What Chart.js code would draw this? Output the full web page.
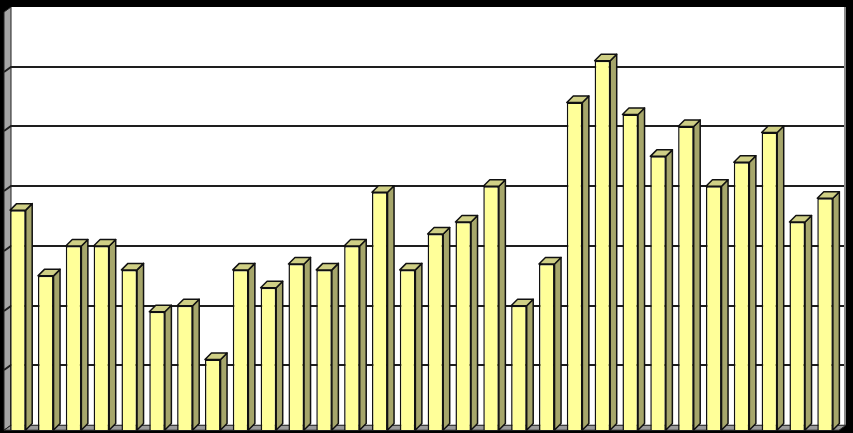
<!DOCTYPE html>
<html>
<head>
<meta charset="utf-8">
<script src="https://cdn.jsdelivr.net/npm/chart.js@4/dist/chart.umd.min.js"></script>
<style>
  html, body { margin: 0; padding: 0; background: #000; }
  canvas { display: block; }
</style>
</head>
<body>
<canvas id="chart" width="853" height="433"></canvas>
<script>
"use strict";

// data
const categories = ["1", "2", "3", "4", "5", "6", "7", "8", "9", "10",
  "11", "12", "13", "14", "15", "16", "17", "18", "19", "20",
  "21", "22", "23", "24", "25", "26", "27", "28", "29", "30"];
const values = [3.6, 2.5, 3.0, 3.0, 2.6, 1.9, 2.0, 1.1, 2.6, 2.3,
  2.7, 2.6, 3.0, 3.9, 2.6, 3.2, 3.4, 4.0, 2.0, 2.7,
  5.4, 6.1, 5.2, 4.5, 5.0, 4.0, 4.4, 4.9, 3.4, 3.8];
const gridTicks = [1, 2, 3, 4, 5, 6];
const yMin = -0.08;
const yMax = 7;

// 3d look
const wallDx = 7;
const wallDy = 5;
const barDx = 6.5;
const barDy = 6.5;

function poly(ctx, pts, fill, stroke, lw) {
  ctx.beginPath();
  ctx.moveTo(pts[0][0], pts[0][1]);
  for (let i = 1; i < pts.length; i++) {
    ctx.lineTo(pts[i][0], pts[i][1]);
  }
  ctx.closePath();
  if (fill) {
    ctx.fillStyle = fill;
    ctx.fill();
  }
  if (stroke) {
    ctx.strokeStyle = stroke;
    ctx.lineWidth = lw || 1;
    ctx.stroke();
  }
}

// walls, floor and gridlines behind the bars
const wallsPlugin = {
  id: "walls",
  beforeDatasetsDraw(chart) {
    const ctx = chart.ctx;
    const a = chart.chartArea;
    const y = chart.scales.y;
    const base = y.getPixelForValue(0);
    ctx.save();
    // back wall
    ctx.fillStyle = "#ffffff";
    ctx.fillRect(a.left + wallDx, a.top, a.right - a.left - 2, base - a.top);
    ctx.fillStyle = "#8a8a8a";
    ctx.fillRect(a.left + wallDx + a.right - a.left - 2, a.top, 2, base - a.top);
    // left wall
    poly(ctx, [
      [a.left, a.top + wallDy],
      [a.left + wallDx, a.top],
      [a.left + wallDx, base],
      [a.left, base + wallDy]
    ], "#a6a6a6", "#222", 1);
    // floor
    poly(ctx, [
      [a.left, base + wallDy],
      [a.left + wallDx, base],
      [a.right + wallDx, base],
      [a.right, base + wallDy]
    ], "#9a9a9a", "#222", 1);
    // gridlines
    ctx.strokeStyle = "#1e1e1e";
    ctx.lineWidth = 2;
    gridTicks.forEach(function (t) {
      const py = Math.round(y.getPixelForValue(t));
      ctx.beginPath();
      ctx.moveTo(a.left, py + wallDy);
      ctx.lineTo(a.left + wallDx, py);
      ctx.lineTo(a.right + wallDx - 2, py);
      ctx.stroke();
    });
    ctx.restore();
  }
};

// side and top faces of each bar
const barsPlugin = {
  id: "bars3d",
  afterDatasetsDraw(chart) {
    const ctx = chart.ctx;
    const meta = chart.getDatasetMeta(0);
    ctx.save();
    ctx.lineJoin = "round";
    meta.data.forEach(function (bar) {
      const p = bar.getProps(["x", "y", "base", "width"], true);
      const l = p.x - p.width / 2;
      const r = p.x + p.width / 2;
      const top = p.y;
      const bottom = p.base;
      // side
      poly(ctx, [
        [r, top],
        [r + barDx, top - barDy],
        [r + barDx, bottom - barDy],
        [r, bottom]
      ], "#a6a66b", "#111", 1.5);
      // top
      poly(ctx, [
        [l, top],
        [l + barDx, top - barDy],
        [r + barDx, top - barDy],
        [r, top]
      ], "#cfcf85", "#111", 1.5);
    });
    ctx.restore();
  }
};

const data = {
  labels: categories,
  datasets: [
    {
      label: "values",
      data: values,
      base: yMin,
      backgroundColor: "#ffff99",
      borderColor: "#111111",
      borderWidth: 1.5,
      categoryPercentage: 1,
      barPercentage: 0.56,
    },
  ],
};

const config = {
  type: "bar",
  data: data,
  options: {
    responsive: false,
    animation: false,
    layout: {
      padding: { left: 4, right: 14, top: 7, bottom: 3 },
    },
    plugins: {
      legend: { display: false },
      tooltip: { enabled: false },
    },
    scales: {
      x: { display: false },
      y: { display: false, min: yMin, max: yMax },
    },
  },
  plugins: [wallsPlugin, barsPlugin],
};

const myChart = new Chart(document.getElementById("chart"), config);
</script>
</body>
</html>
